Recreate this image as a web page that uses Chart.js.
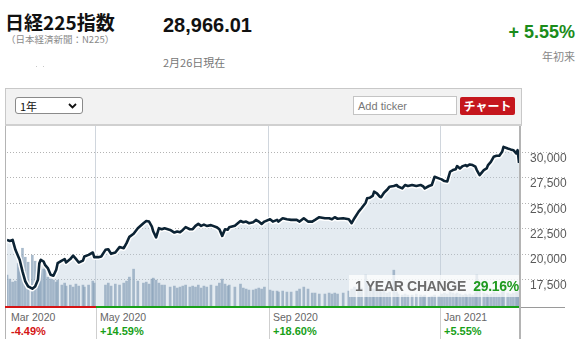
<!DOCTYPE html>
<html>
<head>
<meta charset="utf-8">
<script src="https://cdn.jsdelivr.net/npm/chart.js@4.4.1/dist/chart.umd.min.js"></script>
<style>
  html, body { margin: 0; padding: 0; background: #fff; }
  body { width: 586px; height: 356px; position: relative; overflow: hidden; font-family: "Liberation Sans", Arial, sans-serif; }
  .abs { position: absolute; white-space: nowrap; }
  .cjk { font-family: "Noto Sans CJK JP", "Noto Sans", sans-serif; }
  #chart { position: absolute; left: 0; top: 0; z-index: 3; }
</style>
</head>
<body>
<script>
// ---------- data ----------
const dates = [
 "2020-02-28","2020-03-01","2020-03-03","2020-03-05","2020-03-07","2020-03-08","2020-03-10","2020-03-12","2020-03-14","2020-03-17",
 "2020-03-19","2020-03-21","2020-03-22","2020-03-23","2020-03-25","2020-03-26","2020-03-28","2020-03-30","2020-04-01","2020-04-03",
 "2020-04-04","2020-04-07","2020-04-09","2020-04-10","2020-04-13","2020-04-15","2020-04-17","2020-04-19","2020-04-22","2020-04-23",
 "2020-04-26","2020-04-29","2020-04-30","2020-05-03","2020-05-05","2020-05-08","2020-05-10","2020-05-12","2020-05-15","2020-05-18",
 "2020-05-21","2020-05-23","2020-05-25","2020-05-28","2020-05-31","2020-06-04","2020-06-06","2020-06-08","2020-06-10","2020-06-11",
 "2020-06-13","2020-06-15","2020-06-17","2020-06-19","2020-06-23","2020-06-26","2020-06-28","2020-06-30","2020-07-02","2020-07-04",
 "2020-07-07","2020-07-09","2020-07-11","2020-07-13","2020-07-15","2020-07-17","2020-07-19","2020-07-22","2020-07-26","2020-07-28",
 "2020-07-30","2020-08-01","2020-08-03","2020-08-04","2020-08-08","2020-08-12","2020-08-14","2020-08-16","2020-08-18","2020-08-21",
 "2020-08-23","2020-08-25","2020-08-27","2020-08-29","2020-09-02","2020-09-04","2020-09-07","2020-09-08","2020-09-11","2020-09-14",
 "2020-09-17","2020-09-21","2020-09-23","2020-09-26","2020-09-29","2020-10-02","2020-10-04","2020-10-07","2020-10-11","2020-10-14",
 "2020-10-16","2020-10-18","2020-10-20","2020-10-24","2020-10-28","2020-10-30","2020-11-01","2020-11-04","2020-11-06","2020-11-09",
 "2020-11-10","2020-11-12","2020-11-14","2020-11-15","2020-11-17","2020-11-19","2020-11-20","2020-11-22","2020-11-24","2020-11-26",
 "2020-11-29","2020-12-01","2020-12-02","2020-12-05","2020-12-07","2020-12-09","2020-12-12","2020-12-15","2020-12-18","2020-12-20",
 "2020-12-21","2020-12-24","2020-12-26","2020-12-28","2020-12-31","2021-01-02","2021-01-04","2021-01-06","2021-01-08","2021-01-10",
 "2021-01-12","2021-01-13","2021-01-15","2021-01-17","2021-01-19","2021-01-20","2021-01-22","2021-01-24","2021-01-26","2021-01-27",
 "2021-01-29","2021-02-01","2021-02-03","2021-02-04","2021-02-06","2021-02-08","2021-02-10","2021-02-12","2021-02-14","2021-02-15",
 "2021-02-18","2021-02-20","2021-02-22","2021-02-24","2021-02-25","2021-02-26"
];
const closes = [
 21400,21300,21400,20420,19765,19440,18300,17315,16820,16600,
 16820,17480,19110,19440,19275,18950,18625,17970,17870,18460,
 19110,19360,19510,19180,19510,19860,19530,19180,19360,19765,
 19930,20160,19700,19700,19765,20420,20480,20030,20160,20690,
 20580,21080,21700,22000,22550,23040,23260,23200,22710,22220,
 21650,22550,22450,22550,22380,22120,22220,22150,22380,22650,
 22450,22450,22775,22970,22775,22900,22775,22850,22650,22450,
 21795,22450,22400,22650,22800,23260,23130,23200,23040,23130,
 23365,23200,22970,23200,23430,23200,23365,23200,23530,23430,
 23365,23365,23200,23530,23200,23200,23365,23630,23530,23530,
 23430,23630,23480,23530,23430,23040,23530,24180,24510,25060,
 25490,25550,25720,26140,25980,25650,25600,26040,26300,26630,
 26700,26800,26650,26470,26800,26700,26800,26700,26800,26650,
 26470,26700,26800,27610,27450,27350,27190,27150,28100,28265,
 28350,28655,28430,28655,28755,28655,28820,28755,28600,28265,
 27775,28265,28430,28755,29080,29570,29670,29670,30060,30550,
 30390,30300,30220,29900,30225,28966.01
];
// trading volume (million shares)
const volumes = [
 1760,1540,1375,1430,2420,2200,3245,2750,2475,2860,
 2530,2200,2475,2310,2090,2200,1650,1540,1485,1375,
 1485,1210,1320,1155,1210,1100,1265,1155,1210,1100,
 1210,1430,1320,0,0,1210,1320,1155,1265,1210,
 1320,1430,1650,2090,1430,1320,1375,1265,1540,1595,
 1485,1320,1210,1210,1100,1155,1045,1100,1155,1210,
 1100,1155,1100,1210,1045,1155,1100,1210,1155,1320,
 1540,1265,1155,1210,1100,1265,1045,990,935,935,
 990,1045,990,1100,935,880,880,825,880,825,
 825,880,990,1100,990,770,770,715,715,770,
 715,770,715,770,880,990,1100,990,1045,1760,
 1320,1100,990,990,935,880,825,880,770,825,
 2035,825,715,660,715,660,660,715,660,605,
 660,550,605,660,605,715,770,715,825,770,
 715,770,715,660,715,660,715,660,770,1760,
 880,770,715,660,715,825,770,715,825,880,
 770,715,770,825,770,880
];
const yTicks = [17500, 20000, 22500, 25000, 27500, 30000];
const periodLabels = ["Mar 2020", "May 2020", "Sep 2020", "Jan 2021"];
const periodStarts = ["2020-02-28", "2020-05-01", "2020-09-01", "2021-01-01"];
const periodChanges = [-4.49, 14.59, 18.60, 5.55];
const yearChangeText = "29.16%";

// ---------- page chrome ----------
function el(html, style, cls) {
  const d = document.createElement('div');
  d.className = 'abs ' + (cls || '');
  d.innerHTML = html;
  Object.assign(d.style, style);
  document.body.appendChild(d);
  return d;
}
el('日経225指数', {left:'5px', top:'11px', fontSize:'19px', fontWeight:'bold', lineHeight:'22px', color:'#111'}, 'cjk');
el('（日本経済新聞：N225）', {left:'6px', top:'33px', fontSize:'9.5px', lineHeight:'12px', color:'#8a8a8a'}, 'cjk');
el('28,966.01', {left:'163px', top:'14px', fontSize:'20px', fontWeight:'bold', lineHeight:'22px', color:'#111'});
el('2月26日現在', {left:'163px', top:'55px', fontSize:'11px', lineHeight:'14px', color:'#777'}, 'cjk');
el('+ 5.55%', {right:'11px', top:'22px', fontSize:'18px', fontWeight:'bold', lineHeight:'20px', color:'#1b8c1b'});
el('年初来', {right:'11px', top:'49px', fontSize:'11px', lineHeight:'14px', color:'#888'}, 'cjk');
el('', {left:'36px', top:'66px', width:'1px', height:'1px', background:'#c8c8c8'});
el('', {left:'43px', top:'66px', width:'1px', height:'1px', background:'#c8c8c8'});

// frame
el('', {left:'5px', top:'88px', width:'1px', height:'251px', background:'#b4b4b4'});
el('', {left:'519px', top:'88px', width:'2px', height:'251px', background:'#b4b4b4'});
// toolbar
el('', {left:'5px', top:'88px', width:'515px', height:'35px', background:'#f2f2f2', border:'1px solid #c8c8c8', borderBottom:'2px solid #d0d0d0'});
el('<span class="cjk" style="position:absolute;left:4px;top:1px;font-size:11px;line-height:14px;color:#111">1年</span>' +
   '<svg style="position:absolute;left:52px;top:5px" width="9" height="6"><polyline points="1,1 4.5,4.5 8,1" fill="none" stroke="#111" stroke-width="1.8"/></svg>',
   {left:'15px', top:'97px', width:'66px', height:'15px', background:'#fff', border:'1px solid #8a8a8a', borderRadius:'3px'});
el('<span style="position:absolute;left:4px;top:3px;font-size:11px;line-height:12px;color:#777">Add ticker</span>',
   {left:'353px', top:'96px', width:'102px', height:'17px', background:'#fff', border:'1px solid #c4c4c4'});
el('チャート', {left:'460px', top:'97px', width:'55px', height:'18px', background:'#c5161d', color:'#fff', fontSize:'12px', fontWeight:'bold', lineHeight:'18px', textAlign:'center', borderRadius:'2px'}, 'cjk');

// ---------- chart ----------
const toDay = s => Date.parse(s + 'T00:00:00Z') / 86400000;
const linePts = dates.map((d, i) => ({x: toDay(d), y: closes[i]}));
const volPts = dates.map((d, i) => ({x: toDay(d), y: volumes[i]}));
const gridDays = periodStarts.slice(1).map(toDay);

const cv = document.createElement('canvas');
cv.id = 'chart'; cv.width = 586; cv.height = 356;
cv.style.width = '586px'; cv.style.height = '356px';
document.body.appendChild(cv);

const chart = new Chart(cv.getContext('2d'), {
  type: 'line',
  data: {
    datasets: [
      {type:'line', data: linePts, yAxisID:'y', borderColor:'#0c2334', borderWidth:2.6, pointRadius:0, tension:0,
       fill:'start', backgroundColor:'rgba(188,204,220,0.40)', order:0, borderJoinStyle:'round'},
      {type:'line', data: linePts, yAxisID:'y', borderColor:'#ffffff', borderWidth:5.5, pointRadius:0, tension:0,
       fill:false, order:1, borderJoinStyle:'round'},
      {type:'bar', data: volPts, yAxisID:'yv', backgroundColor:'rgba(140,164,187,0.75)', barThickness:2, grouped:false, order:2}
    ]
  },
  options: {
    animation: false, responsive: false, events: [],
    layout: {padding: {left: 7, top: 126, right: 0, bottom: 49}},
    plugins: {legend: {display:false}, tooltip: {enabled:false}, filler: {drawTime:'beforeDatasetsDraw'}},
    scales: {
      x: {type:'linear', offset:false, min: toDay(dates[0]), max: toDay(dates[dates.length-1]),
          ticks:{display:false}, grid:{color:'#d0d6dd', drawTicks:false, lineWidth:1, offset:false},
          border:{display:false},
          afterBuildTicks: s => { s.ticks = gridDays.map(v => ({value:v})); },
          afterFit: s => { s.height = 0; }},
      y: {position:'right', min:14800, max:32600,
          afterBuildTicks: s => { s.ticks = yTicks.map(v => ({value:v})); },
          ticks:{color:'#5a5a5a', font:{family:'"Liberation Sans", Arial', size:12}, padding:-35, labelOffset:6,
                 callback: v => v.toLocaleString('en-US')},
          grid:{color:'#b3b3b3', lineWidth:1, tickLength:46, tickColor:'#b3b3b3', tickBorderDash:[1,2], tickWidth:1, offset:false},
          border:{display:false, dash:[1,2]},
          afterFit: s => { s.width = 67; }},
      yv: {display:false, min:0, max:10000}
    }
  }
});

// ---------- overlays tied to the chart scales ----------
const xs = chart.scales.x, ca = chart.chartArea;
el('<span style="color:#6c6c6c">1 YEAR CHANGE</span>&nbsp;&nbsp;<span style="color:#1f9a1f">' + yearChangeText + '</span>',
   {left:'349px', top:'275px', width:'164px', height:'22px', paddingLeft:'6px', background:'rgba(255,255,255,0.72)',
    fontSize:'14px', fontWeight:'bold', lineHeight:'23px', letterSpacing:'-0.3px', zIndex:4});

const bounds = periodStarts.map((d, i) => i === 0 ? ca.left : xs.getPixelForValue(toDay(d)));
bounds.push(ca.right);
periodLabels.forEach((lab, i) => {
  const x0 = Math.round(bounds[i]), x1 = Math.round(bounds[i+1]);
  const col = periodChanges[i] < 0 ? '#d41414' : '#18a018';
  const segL = i === 0 ? 5 : x0;
  el('', {left: segL + 'px', top:'306px', width:(x1 - segL) + 'px', height:'2px', background: col, zIndex:5});
  if (i > 0) el('', {left: x0 + 'px', top:'308px', width:'1px', height:'31px', background:'#cfcfcf'});
  el(lab, {left:(x0 + 4) + 'px', top:'310px', fontSize:'10.5px', lineHeight:'14px', color:'#666'});
  const txt = (periodChanges[i] > 0 ? '+' : '') + periodChanges[i].toFixed(2) + '%';
  el(txt, {left:(x0 + 4) + 'px', top:'324px', fontSize:'11px', fontWeight:'bold', lineHeight:'14px', color: col});
});
el('', {left:'521px', top:'307px', width:'44px', height:'1px', background:'#9a9a9a'});
</script>
</body>
</html>
